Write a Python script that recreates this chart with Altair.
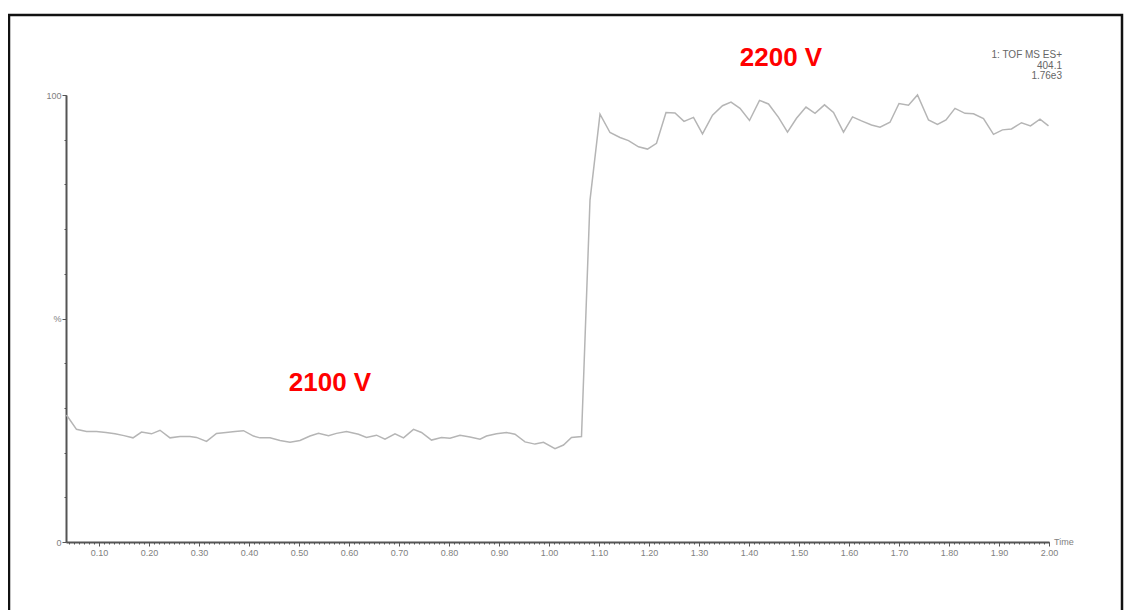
import altair as alt
import pandas as pd

time = [0.035, 0.055, 0.075, 0.095, 0.114, 0.132, 0.150, 0.168, 0.185, 0.205, 0.222,
        0.242, 0.262, 0.282, 0.295, 0.315, 0.335, 0.354, 0.372, 0.389, 0.409, 0.422,
        0.442, 0.462, 0.482, 0.502, 0.522, 0.539, 0.559, 0.575, 0.595, 0.619, 0.635,
        0.655, 0.672, 0.692, 0.709, 0.729, 0.745, 0.765, 0.785, 0.802, 0.822, 0.842,
        0.862, 0.875, 0.895, 0.915, 0.932, 0.952, 0.972, 0.989, 1.012, 1.029, 1.045,
        1.065, 1.082, 1.102, 1.122, 1.142, 1.159, 1.179, 1.197, 1.215, 1.234, 1.252,
        1.270, 1.289, 1.307, 1.327, 1.347, 1.364, 1.382, 1.401, 1.421, 1.439, 1.459,
        1.477, 1.495, 1.514, 1.532, 1.551, 1.569, 1.589, 1.607, 1.625, 1.645, 1.662,
        1.682, 1.700, 1.719, 1.737, 1.759, 1.777, 1.794, 1.812, 1.832, 1.849, 1.869,
        1.889, 1.907, 1.925, 1.945, 1.963, 1.982, 1.999]
intensity = [28.4, 25.2, 24.7, 24.7, 24.5, 24.2, 23.8, 23.3, 24.6, 24.2, 25.0,
             23.3, 23.6, 23.6, 23.4, 22.5, 24.3, 24.5, 24.7, 24.9, 23.7, 23.3,
             23.3, 22.7, 22.3, 22.7, 23.7, 24.3, 23.8, 24.3, 24.7, 24.1, 23.4,
             23.9, 23.0, 24.2, 23.3, 25.2, 24.5, 22.8, 23.4, 23.2, 23.9, 23.5,
             23.0, 23.7, 24.2, 24.5, 24.1, 22.4, 21.9, 22.3, 20.9, 21.7, 23.4,
             23.6, 76.5, 95.7, 91.6, 90.5, 89.8, 88.4, 87.9, 89.2, 96.1, 96.0,
             94.1, 95.0, 91.3, 95.5, 97.6, 98.4, 97.0, 94.3, 98.8, 98.0, 95.0,
             91.7, 94.8, 97.3, 95.9, 97.8, 96.1, 91.7, 95.1, 94.2, 93.3, 92.8,
             93.9, 98.1, 97.7, 100.0, 94.4, 93.4, 94.4, 97.0, 95.9, 95.8, 94.7,
             91.2, 92.2, 92.4, 93.8, 93.1, 94.6, 93.1]

x_major = [0.10, 0.20, 0.30, 0.40, 0.50, 0.60, 0.70, 0.80, 0.90, 1.00,
           1.10, 1.20, 1.30, 1.40, 1.50, 1.60, 1.70, 1.80, 1.90, 2.00]
x_minor = [round(0.01 * i, 2) for i in range(4, 201)]
y_ticks = [0, 50, 100]
y_minor = [0, 10, 20, 30, 40, 50, 60, 70, 80, 90, 100]

ann_text = ["2200 V", "2100 V"]
ann_x = [1.464, 0.562]
ann_y = [108.3, 35.6]

header_lines = ["1: TOF MS ES+", "404.1", "1.76e3"]

df = pd.DataFrame({"time": time, "intensity": intensity})
ann = pd.DataFrame({"text": ann_text, "x": ann_x, "y": ann_y})
one = pd.DataFrame({"a": [0]})

W, H = 983, 447
FONT = "Liberation Sans"
AX = "#555555"
LBL = "#808080"

xscale = alt.Scale(domain=[0.034, 2.0], nice=False, zero=False)
yscale = alt.Scale(domain=[0, 100], nice=False, zero=False)

line = alt.Chart(df).mark_line(color="#b5b5b5", strokeWidth=1.5).encode(
    x=alt.X("time:Q", scale=xscale,
            axis=alt.Axis(values=x_major, format=".2f", title=None, orient="bottom",
                          domainColor=AX, domainWidth=2, tickColor=AX, tickSize=4,
                          tickWidth=1, labelFontSize=9, labelColor=LBL,
                          labelPadding=2, grid=False, labelFont=FONT,
                          labelFlush=False, labelOverlap=False)),
    y=alt.Y("intensity:Q", scale=yscale,
            axis=alt.Axis(values=y_ticks, title=None, orient="left",
                          labelExpr="datum.value == 50 ? '%' : datum.label",
                          domainColor=AX, domainWidth=2, tickColor=AX, tickSize=4,
                          labelFontSize=9, labelColor=LBL, labelPadding=1,
                          grid=False, labelFont=FONT)),
)

minor = alt.Chart(df).mark_point(opacity=0).encode(
    x=alt.X("time:Q", scale=xscale,
            axis=alt.Axis(values=x_minor, labels=False, domain=False, title=None,
                          orient="bottom", tickColor=AX, tickSize=2, tickWidth=1,
                          grid=False)),
    y=alt.Y("intensity:Q", scale=yscale,
            axis=alt.Axis(values=y_minor, labels=False, domain=False, title=None,
                          orient="left", tickColor=AX, tickSize=2, tickWidth=1,
                          grid=False)),
)

labels = alt.Chart(ann).mark_text(color="#ff0000", fontSize=26, fontWeight="bold",
                                  font=FONT, align="center", baseline="middle").encode(
    x=alt.X("x:Q", scale=xscale, axis=None),
    y=alt.Y("y:Q", scale=yscale, axis=None),
    text="text:N",
)

header = alt.layer(*[
    alt.Chart(one).mark_text(text=t, fontSize=10, font=FONT, color="#666666",
                             align="right", baseline="middle").encode(
        x=alt.value(996), y=alt.value(-40 + 10.5 * i))
    for i, t in enumerate(header_lines)
])

time_lbl = alt.Chart(one).mark_text(text="Time", fontSize=9, font=FONT, color=LBL,
                                    align="left", baseline="middle").encode(
    x=alt.value(W + 5), y=alt.value(H))

frame = alt.Chart(one).mark_rect(fill="transparent", stroke="#111111", strokeWidth=2.5).encode(
    x=alt.value(-57), x2=alt.value(1056), y=alt.value(-80), y2=alt.value(540))

chart = alt.layer(frame, minor, line, labels, header, time_lbl).resolve_axis(
    x="independent", y="independent"
).properties(
    width=W, height=H,
    padding={"left": 58, "top": 87, "right": 77, "bottom": 78},
    autosize=alt.AutoSizeParams(type="none"),
).configure_view(strokeWidth=0)

chart.save("out.html", embed_options={"renderer": "svg", "actions": False})
